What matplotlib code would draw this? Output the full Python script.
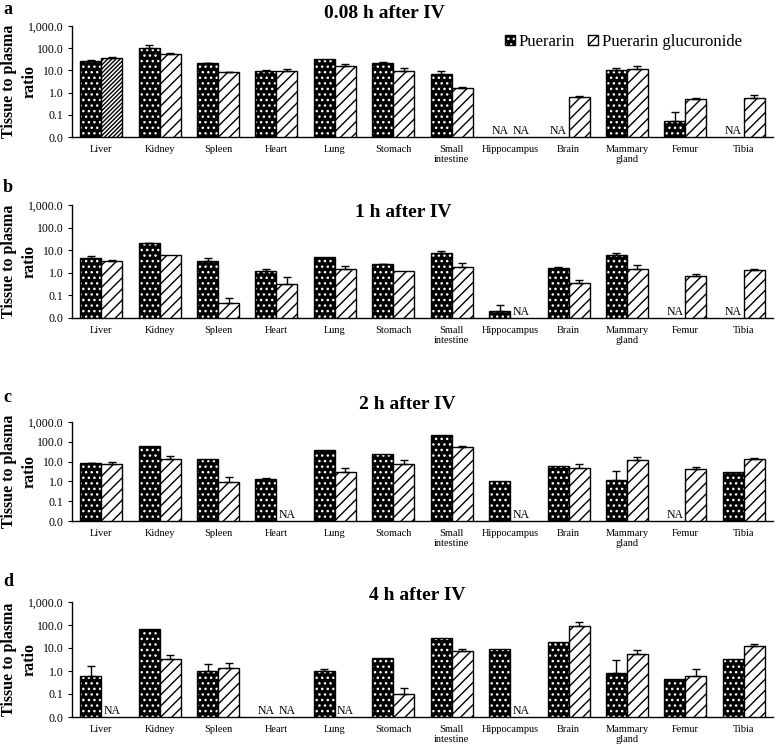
import matplotlib
matplotlib.use("Agg")
import matplotlib.pyplot as plt
from matplotlib.patches import Patch
import numpy as np

nan = np.nan

tissues = ["Liver", "Kidney", "Spleen", "Heart", "Lung", "Stomach", "Small\nintestine",
           "Hippocampus", "Brain", "Mammary\ngland", "Femur", "Tibia"]
ytick_vals = [0.01, 0.1, 1, 10, 100, 1000]
ytick_labels = ["0.0", "0.1", "1.0", "10.0", "100.0", "1,000.0"]

titles = ["0.08 h after IV", "1 h after IV", "2 h after IV", "4 h after IV"]
letters = ["a", "b", "c", "d"]

# tissue to plasma ratio (mean) and upper error, nan = NA
puer_008 = [27, 107, 21, 9, 33, 21, 7.2, nan, nan, 10.2, 0.052, nan]
puer_008_err = [2, 33, 1, 1, 0, 3, 1.8, nan, nan, 2.3, 0.08, nan]
gluc_008 = [38, 53, 8.3, 9.8, 16, 9.5, 1.65, nan, 0.63, 11.7, 0.51, 0.6]
gluc_008_err = [2, 7, 0.2, 1.2, 3, 3.5, 0.1, nan, 0.07, 3.3, 0.07, 0.19]

puer_1 = [4.7, 20, 3.5, 1.23, 5.0, 2.35, 7.6, 0.02, 1.6, 5.9, nan, nan]
puer_1_err = [1.1, 0.5, 1.0, 0.22, 0, 0.2, 2.0, 0.019, 0.3, 1.9, nan, nan]
gluc_1 = [3.5, 6.3, 0.048, 0.32, 1.5, 1.2, 1.8, nan, 0.36, 1.5, 0.71, 1.37]
gluc_1_err = [0.1, 0, 0.032, 0.31, 0.5, 0, 0.8, nan, 0.11, 0.7, 0.19, 0.05]

puer_2 = [8.5, 63, 14, 1.27, 40, 25, 228, 1.05, 6.2, 1.24, nan, 3.1]
puer_2_err = [0.5, 0, 0, 0.23, 0, 0, 0, 0, 0, 2.3, nan, 0]
gluc_2 = [7.9, 14, 0.93, nan, 2.9, 7.3, 55, nan, 4.6, 12.6, 4.1, 13.5]
gluc_2_err = [2.1, 5, 0.73, nan, 2.0, 4.3, 9, nan, 2.7, 4.4, 1.2, 2.3]

puer_4 = [0.59, 69, 1.05, nan, 0.96, 3.5, 26, 8.9, 19, 0.85, 0.43, 3.25]
puer_4_err = [1.1, 0, 0.95, nan, 0.24, 0, 0, 0, 0, 2.05, 0, 0]
gluc_4 = [nan, 3.3, 1.29, nan, nan, 0.098, 7.1, nan, 93, 5.4, 0.58, 12.1]
gluc_4_err = [nan, 1.6, 0.9, nan, nan, 0.09, 1.8, nan, 46, 3.2, 0.6, 2.6]

puer = [puer_008, puer_1, puer_2, puer_4]
puer_err = [puer_008_err, puer_1_err, puer_2_err, puer_4_err]
gluc = [gluc_008, gluc_1, gluc_2, gluc_4]
gluc_err = [gluc_008_err, gluc_1_err, gluc_2_err, gluc_4_err]

plt.rcParams['font.family'] = ['Liberation Serif', 'DejaVu Serif']
plt.rcParams['hatch.linewidth'] = 1.0

W, H = 779, 748
fig = plt.figure(figsize=(W / 100, H / 100), dpi=100)

# axes boxes in pixels: top, bottom
boxes = [(26, 137), (205, 318), (422, 521), (602, 717)]
title_pos = [(384, 14), (403, 213), (407, 404), (417, 596)]
letter_y = [9, 187, 398, 581]

w = 0.36
x = np.arange(len(tissues))

def draw_bars(ax, xs, vals, errs, face, hatch, hcolor):
    vals = np.array(vals, dtype=float)
    errs = np.array(errs, dtype=float)
    ok = ~np.isnan(vals)
    ax.bar(xs[ok], vals[ok], w, color=face, edgecolor=hcolor, hatch=hatch, linewidth=0)
    ax.bar(xs[ok], vals[ok], w, fill=False, edgecolor='black', linewidth=1.0)
    e = ok & (errs > 0)
    ax.errorbar(xs[e], vals[e], yerr=[np.zeros(e.sum()), errs[e]], fmt='none',
                ecolor='black', elinewidth=1.0, capsize=3, capthick=1.0)
    for xi in xs[~ok]:
        ax.text(xi, 0.0105, "NA", ha='center', va='bottom', fontsize=8.5)

for k in range(4):
    top, bot = boxes[k]
    ax = fig.add_axes([72 / W, 1 - bot / H, 701 / W, (bot - top) / H])
    ax.set_yscale('log')
    draw_bars(ax, x - w / 2, puer[k], puer_err[k], 'black', '...', 'white')
    g = np.array(gluc[k], dtype=float)
    if k == 0:
        # first bar of panel a has a finer grey-looking hatch
        draw_bars(ax, x[:1] + w / 2, g[:1], gluc_err[k][:1], 'white', '////////', 'black')
        draw_bars(ax, x[1:] + w / 2, g[1:], gluc_err[k][1:], 'white', '///', 'black')
    else:
        draw_bars(ax, x + w / 2, g, gluc_err[k], 'white', '///', 'black')

    ax.set_ylim(0.01, 1000)
    ax.set_xlim(-0.5, len(tissues) - 0.5)
    ax.set_yticks(ytick_vals)
    ax.set_yticklabels(ytick_labels, fontsize=8.5)
    ax.minorticks_off()
    ax.set_xticks(x)
    ax.set_xticklabels(tissues, fontsize=7.5, linespacing=1.05, va='top')
    ax.tick_params(axis='x', length=0, pad=6)
    ax.tick_params(axis='y', length=3, pad=3)
    for s in ['top', 'right']:
        ax.spines[s].set_visible(False)
    ax.spines['left'].set_linewidth(1.0)
    ax.spines['bottom'].set_linewidth(1.0)
    ax.patch.set_visible(False)

    fig.text(title_pos[k][0] / W, 1 - title_pos[k][1] / H, titles[k], ha='center',
             va='center', fontsize=14, fontweight='bold')
    fig.text(3 / W, 1 - letter_y[k] / H, letters[k], ha='left', va='center',
             fontsize=13, fontweight='bold')
    ymid = 1 - (top + bot) / 2 / H
    fig.text(9 / W, ymid, "Tissue to plasma", rotation=90,
             ha='center', va='center', fontsize=11.5, fontweight='bold')
    fig.text(30 / W, ymid, "ratio", rotation=90,
             ha='center', va='center', fontsize=11.5, fontweight='bold')

    if k == 0:
        h1 = (Patch(facecolor='black', edgecolor='white', hatch='...', linewidth=0),
              Patch(fill=False, edgecolor='black', linewidth=1.0))
        h2 = (Patch(facecolor='white', edgecolor='black', hatch='///', linewidth=0),
              Patch(fill=False, edgecolor='black', linewidth=1.0))
        ax.legend([h1, h2], ["Puerarin", "Puerarin glucuronide"], ncol=2,
                  loc='center right', bbox_to_anchor=(750 / W, 1 - 42 / H),
                  bbox_transform=fig.transFigure, frameon=False, fontsize=12,
                  handlelength=0.6, handleheight=0.6, handletextpad=0.2,
                  columnspacing=0.8, borderpad=0)

fig.savefig("out.png", dpi=100)
